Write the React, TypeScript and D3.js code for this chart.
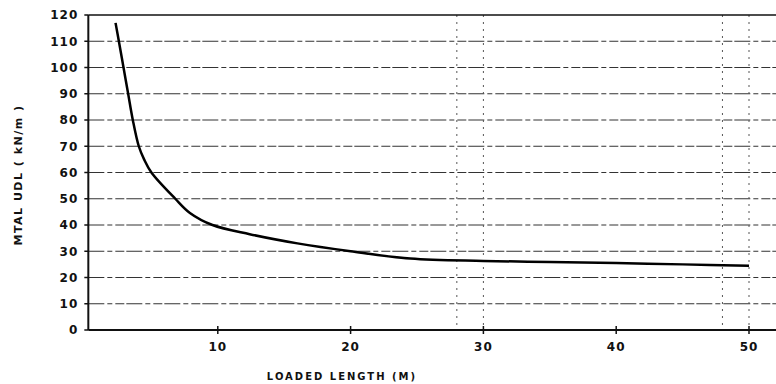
import React from "react";
import * as d3 from "d3";

// loaded length (m) against mtal udl (kN/m)
const loadedLength = [2.3, 2.55, 2.9, 3.25, 3.6, 4.05, 4.45, 5.0, 6.8, 7.9, 9.6, 12.4, 16, 20, 24.5, 30, 35, 40, 45, 50];
const udl = [117, 110, 100, 90, 80, 70, 65, 60, 50, 44.6, 40, 36.5, 33, 30, 27.2, 26.3, 25.9, 25.5, 25, 24.5];

const yTicks = [0, 10, 20, 30, 40, 50, 60, 70, 80, 90, 100, 110, 120];
const xTicks = [10, 20, 30, 40, 50];
const xGridDotted = [28, 30, 48, 50];

export default function App() {
  const width = 776;
  const height = 384;
  const font = "'DejaVu Sans', sans-serif";

  const x = d3.scaleLinear().domain([0, 50]).range([85, 749]);
  const y = d3.scaleLinear().domain([0, 120]).range([330, 15]);
  const axisX = x(0.25);

  const pts = loadedLength.map((d, i) => [d, udl[i]] as [number, number]);
  const line = d3
    .line<[number, number]>()
    .x((d) => x(d[0]))
    .y((d) => y(d[1]))
    .curve(d3.curveCatmullRom.alpha(0.5));

  return (
    <svg
      width={width}
      height={height}
      style={{ position: "absolute", left: 0, top: 0, background: "#fff" }}
    >
      {/* horizontal grid, dashed like the scan */}
      {yTicks.slice(1, -1).map((t) => (
        <line
          key={"gy" + t}
          x1={axisX}
          x2={width}
          y1={y(t)}
          y2={y(t)}
          stroke="#333"
          strokeWidth={1}
          strokeDasharray="16 3 5 3 9 2"
        />
      ))}
      {/* sparse dotted verticals */}
      {xGridDotted.map((t) => (
        <line
          key={"gx" + t}
          x1={x(t)}
          x2={x(t)}
          y1={y(120)}
          y2={y(0)}
          stroke="#555"
          strokeWidth={1}
          strokeDasharray="2 5"
        />
      ))}
      {/* top border */}
      <line x1={axisX} x2={width} y1={y(120)} y2={y(120)} stroke="#111" strokeWidth={1.5} />
      {/* axes */}
      <line x1={axisX} x2={width} y1={y(0)} y2={y(0)} stroke="#111" strokeWidth={2} />
      <line x1={axisX} x2={axisX} y1={y(120)} y2={y(0)} stroke="#111" strokeWidth={2} />

      {yTicks.map((t) => (
        <g key={"yt" + t}>
          <line x1={axisX - 4} x2={axisX} y1={y(t)} y2={y(t)} stroke="#111" strokeWidth={1.5} />
          <text
            x={axisX - 10}
            y={y(t)}
            dy="0.36em"
            textAnchor="end"
            fontFamily={font}
            fontWeight="bold"
            fontSize={12}
            letterSpacing={1}
            fill="#111"
          >
            {t}
          </text>
        </g>
      ))}
      {xTicks.map((t) => (
        <g key={"xt" + t}>
          <line x1={x(t)} x2={x(t)} y1={y(0) - 4} y2={y(0) + 4} stroke="#111" strokeWidth={1.5} />
          <text
            x={x(t)}
            y={y(0) + 21}
            textAnchor="middle"
            fontFamily={font}
            fontWeight="bold"
            fontSize={12}
            letterSpacing={1}
            fill="#111"
          >
            {t}
          </text>
        </g>
      ))}

      <path d={line(pts) ?? ""} fill="none" stroke="#000" strokeWidth={2.5} />

      <text
        x={342}
        y={380}
        textAnchor="middle"
        fontFamily={font}
        fontWeight="bold"
        fontSize={10}
        letterSpacing={2}
        fill="#111"
      >
        LOADED LENGTH (M)
      </text>
      <text
        transform="translate(22,175) rotate(-90)"
        textAnchor="middle"
        fontFamily={font}
        fontWeight="bold"
        fontSize={11}
        letterSpacing={1.5}
        fill="#111"
      >
        MTAL UDL ( kN/m )
      </text>
    </svg>
  );
}
